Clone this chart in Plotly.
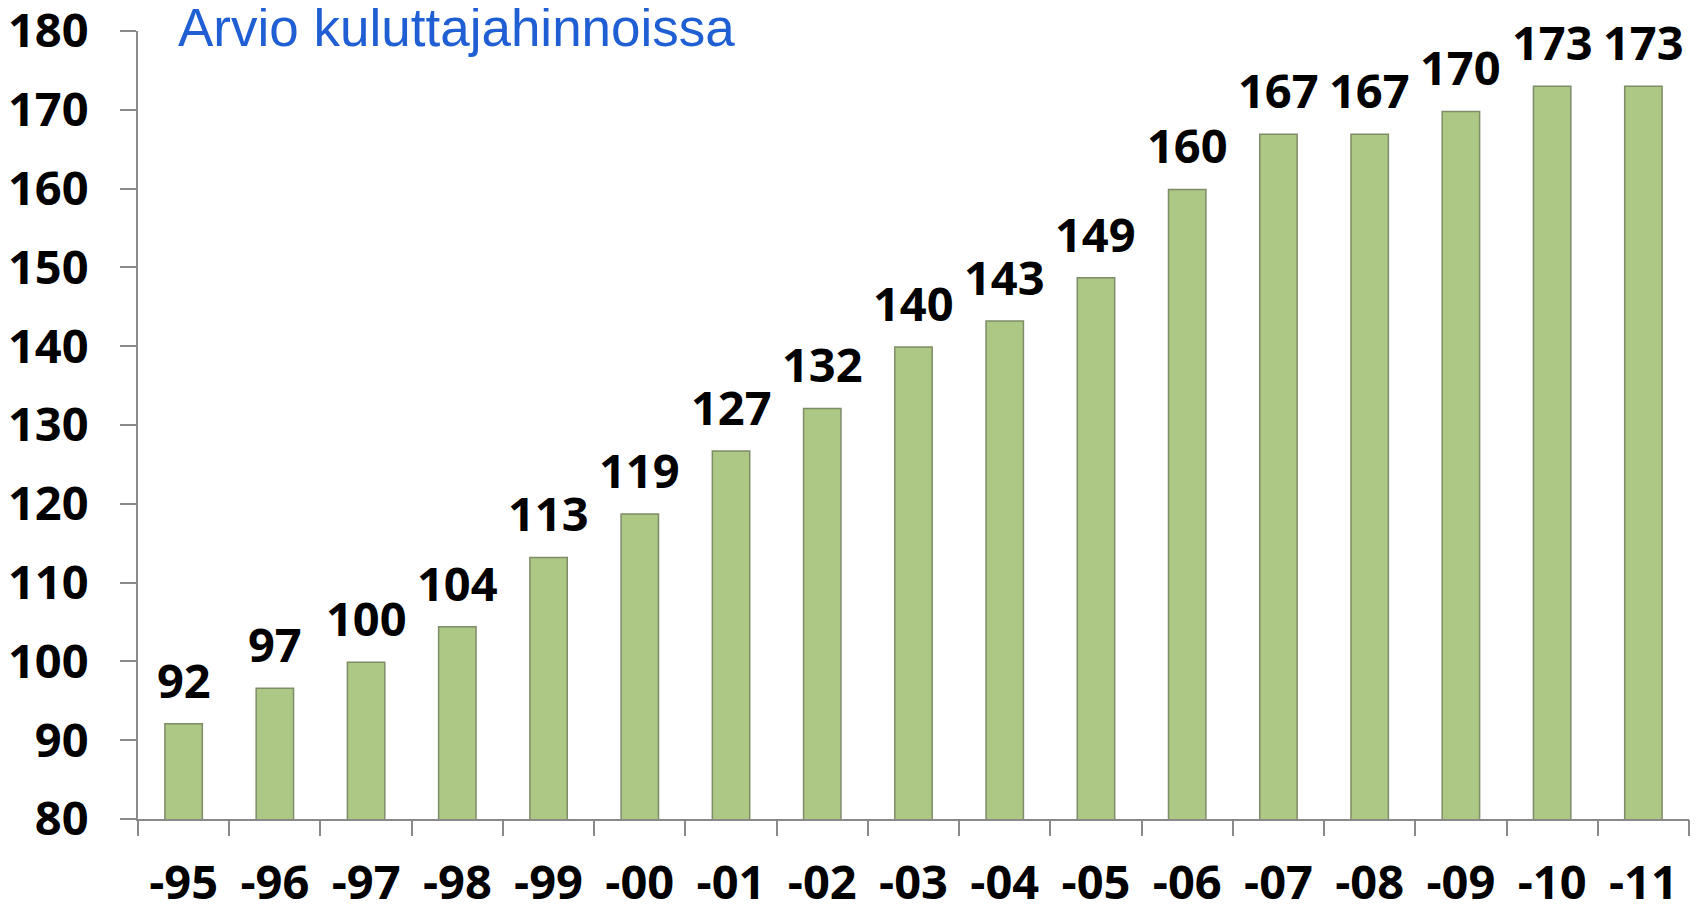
import plotly.graph_objects as go

years = ["-95", "-96", "-97", "-98", "-99", "-00", "-01", "-02", "-03",
         "-04", "-05", "-06", "-07", "-08", "-09", "-10", "-11"]
values = [92.1, 96.6, 99.9, 104.4, 113.2, 118.7, 126.7, 132.1, 139.9,
          143.2, 148.7, 159.9, 166.9, 166.9, 169.8, 173.0, 173.0]
labels = [f"{round(v)}" for v in values]
title_text = "Arvio kuluttajahinnoissa"
y_ticks = list(range(80, 181, 10))

num_font = dict(family="Open Sans, Liberation Sans, Arial", size=47, color="#000000")

fig = go.Figure()
fig.add_trace(go.Bar(
    x=list(range(len(years))), y=values,
    marker=dict(color="#ADC785", line=dict(color="#7F8C68", width=1.5)),
    hoverinfo="skip",
))

annotations = [
    dict(x=i, y=v, text=f"<b>{t}</b>", showarrow=False, xref="x", yref="y",
         yanchor="bottom", yshift=10, font=num_font)
    for i, (v, t) in enumerate(zip(values, labels))
]
annotations.append(dict(
    x=0.0245, y=1.004, xref="paper", yref="paper", xanchor="left", yanchor="middle",
    text=title_text, showarrow=False,
    font=dict(family="Liberation Sans, Arial", size=53, color="#1F5FD3"),
))

fig.update_layout(
    width=1700, height=909,
    margin=dict(l=130, r=19, t=23, b=98, autoexpand=False),
    paper_bgcolor="white", plot_bgcolor="white",
    bargap=0.59, showlegend=False,
    annotations=annotations,
    xaxis=dict(
        range=[-0.5, 16.5], tickvals=list(range(len(years))),
        ticktext=[f"<b>{y}</b>" for y in years],
        showline=True, linecolor="#898989", linewidth=2,
        ticks="", showgrid=False, zeroline=False, automargin=False,
        tickfont=num_font, ticklabelstandoff=22,
    ),
    xaxis2=dict(
        overlaying="x", range=[-0.5, 16.5], tickvals=[i - 0.5 for i in range(len(years) + 1)],
        showticklabels=False, ticks="outside", ticklen=16, tickcolor="#898989", tickwidth=2,
        showgrid=False, zeroline=False, side="bottom", anchor="y", automargin=False,
    ),
    yaxis=dict(
        range=[80, 180], tickvals=y_ticks,
        ticktext=[f"<b>{v}</b>" for v in y_ticks],
        showline=True, linecolor="#898989", linewidth=2,
        ticks="outside", ticklen=16, tickcolor="#898989", tickwidth=2,
        showgrid=False, zeroline=False, automargin=False,
        tickfont=num_font, ticklabelstandoff=22, ticklabeloverflow="allow",
    ),
)
# dummy trace to activate the tick-boundary axis
fig.add_trace(go.Scatter(x=[None], y=[None], xaxis="x2", showlegend=False, hoverinfo="skip"))

fig.write_html("out.html")
